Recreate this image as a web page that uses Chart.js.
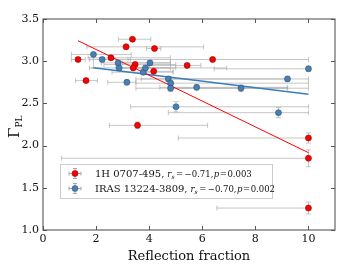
<!DOCTYPE html>
<html><head><meta charset="utf-8">
<script src="https://cdn.jsdelivr.net/npm/chart.js@4"></script>
<style>html,body{margin:0;padding:0;background:#fff}#wrap{width:345px;height:264px}</style>
</head><body><div id="wrap"><canvas id="c" width="345" height="264"></canvas></div>
<script>
const redName = "1H 0707-495";
const redRs = "\u22120.71";
const redP = "0.003";
const blueName = "IRAS 13224-3809";
const blueRs = "\u22120.70";
const blueP = "0.002";

const redX   = [1.32,1.62,2.56,3.13,3.37,4.20,3.47,3.40,4.17,5.43,6.39,3.56,10,10,10];
const redY   = [3.02,2.77,3.04,3.17,3.26,3.15,2.96,2.92,2.88,2.95,3.02,2.24,2.09,1.85,1.26];
const redXlo = [1.07,1.23,1.70,1.65,2.84,3.90,2.30,2.75,3.70,4.00,3.20,2.50,5.10,0.70,6.55];
const redXhi = [1.59,2.05,4.80,6.05,4.06,4.44,5.00,6.92,4.90,5.95,10,6.20,10,10,10];
const redYerr= [0.02,0.02,0.03,0.03,0.02,0.02,0.03,0.02,0.03,0.02,0.02,0.04,0.06,0.10,0.07];

const blueX   = [1.90,2.23,2.83,2.87,3.16,3.78,3.86,4.03,4.72,4.81,4.81,5.01,5.79,7.46,8.87,9.21,10];
const blueY   = [3.08,3.02,2.98,2.92,2.75,2.87,2.92,2.98,2.79,2.74,2.68,2.46,2.69,2.68,2.39,2.79,2.91];
const blueXlo = [1.07,1.75,2.20,1.75,2.44,2.60,2.90,3.00,3.50,3.50,3.50,3.30,4.40,4.70,4.72,3.70,6.45];
const blueXhi = [3.32,3.30,4.80,5.00,3.50,4.90,4.80,4.80,9.20,10,10,10,9.20,9.22,10,10,10];
const blueYup = [0.02,0.02,0.03,0.03,0.03,0.03,0.03,0.03,0.03,0.03,0.04,0.06,0.03,0.04,0.06,0.03,0.03];
const blueYdn = [0.16,0.02,0.03,0.03,0.03,0.03,0.03,0.03,0.03,0.03,0.04,0.06,0.03,0.04,0.06,0.03,0.03];

const redFitX = [1.32, 10];
const redFitY = [3.243, 1.916];
const blueFitX = [1.90, 10];
const blueFitY = [2.923, 2.607];

const xTicks = [0,2,4,6,8,10];
const yTicks = [1.0,1.5,2.0,2.5,3.0,3.5];

const RED = '#ff0000', BLUE = '#4a7fb3';
const SERIF = '"DejaVu Serif", "Liberation Serif", serif';

function pts(xs, ys){ return xs.map((x,i)=>({x:x, y:ys[i]})); }

const errInfo = {
  red: {xlo: redXlo, xhi: redXhi, yup: redYerr, ydn: redYerr},
  blue:{xlo: blueXlo, xhi: blueXhi, yup: blueYup, ydn: blueYdn}
};

const errPlugin = {
  id:'err',
  beforeDatasetsDraw(chart){
    const ctx = chart.ctx, xs = chart.scales.x, ys = chart.scales.y;
    ctx.save();
    ctx.strokeStyle = 'rgba(160,160,160,0.6)';
    ctx.lineWidth = 1;
    chart.data.datasets.forEach(ds=>{
      if(!ds.errKey) return;
      const e = errInfo[ds.errKey];
      ds.data.forEach((p,i)=>{
        const px = xs.getPixelForValue(p.x), py = ys.getPixelForValue(p.y);
        const x1 = xs.getPixelForValue(e.xlo[i]), x2 = xs.getPixelForValue(e.xhi[i]);
        const y1 = ys.getPixelForValue(p.y + e.yup[i]), y2 = ys.getPixelForValue(p.y - e.ydn[i]);
        ctx.beginPath();
        ctx.moveTo(x1, py); ctx.lineTo(x2, py);
        ctx.moveTo(x1, py-2.5); ctx.lineTo(x1, py+2.5);
        ctx.moveTo(x2, py-2.5); ctx.lineTo(x2, py+2.5);
        ctx.moveTo(px, y1); ctx.lineTo(px, y2);
        ctx.moveTo(px-2.5, y1); ctx.lineTo(px+2.5, y1);
        ctx.moveTo(px-2.5, y2); ctx.lineTo(px+2.5, y2);
        ctx.stroke();
      });
    });
    ctx.restore();
  }
};

function drawMath(ctx, x, y, name, rs, p){
  ctx.font = '10px ' + SERIF;
  ctx.fillText(name + ',', x, y);
  let cx = x + ctx.measureText(name + ',').width + 3;
  ctx.font = 'italic 8.5px ' + SERIF;
  ctx.fillText('r', cx, y); cx += ctx.measureText('r').width;
  ctx.font = 'italic 6px ' + SERIF;
  ctx.fillText('s', cx, y+2); cx += ctx.measureText('s').width + 1.5;
  ctx.font = '8.5px ' + SERIF;
  ctx.fillText('=', cx, y); cx += ctx.measureText('=').width + 1.5;
  ctx.fillText(rs + ',', cx, y); cx += ctx.measureText(rs + ',').width + 0.5;
  ctx.font = 'italic 8.5px ' + SERIF;
  ctx.fillText('p', cx, y); cx += ctx.measureText('p').width + 0.5;
  ctx.font = '8.5px ' + SERIF;
  ctx.fillText('=', cx, y); cx += ctx.measureText('=').width + 0.5;
  ctx.fillText(p, cx, y);
}

const decoPlugin = {
  id:'deco',
  afterDraw(chart){
    const ctx = chart.ctx, a = chart.chartArea, xs = chart.scales.x, ys = chart.scales.y;
    ctx.save();
    ctx.strokeStyle = '#666'; ctx.lineWidth = 1.2;
    ctx.strokeRect(a.left, a.top, a.right-a.left, a.bottom-a.top);
    ctx.strokeStyle = '#555'; ctx.lineWidth = 1;
    ctx.beginPath();
    xTicks.forEach(t=>{ const px = Math.round(xs.getPixelForValue(t))+0.5;
      ctx.moveTo(px, a.bottom); ctx.lineTo(px, a.bottom-4);
      ctx.moveTo(px, a.top); ctx.lineTo(px, a.top+4); });
    yTicks.forEach(t=>{ const py = Math.round(ys.getPixelForValue(t))+0.5;
      ctx.moveTo(a.left, py); ctx.lineTo(a.left+4, py);
      ctx.moveTo(a.right, py); ctx.lineTo(a.right-4, py); });
    ctx.stroke();
    ctx.fillStyle = '#111';
    ctx.translate(15, 126); ctx.rotate(-Math.PI/2);
    ctx.textAlign = 'left'; ctx.textBaseline = 'alphabetic';
    ctx.font = '15px ' + SERIF;
    const gw = ctx.measureText('\u0393').width;
    ctx.fillText('\u0393', -12, 4);
    ctx.font = '9px ' + SERIF;
    ctx.fillText('PL', -12 + gw, 7);
    ctx.restore();

    ctx.save();
    const lx = 60.5, ly = 164.5, lw = 212, lh = 34;
    ctx.fillStyle = 'rgba(255,255,255,0.9)';
    ctx.fillRect(lx, ly, lw, lh);
    ctx.strokeStyle = '#ccc'; ctx.lineWidth = 1;
    ctx.strokeRect(lx, ly, lw, lh);
    const rows = [[RED, '#a00000', redName, redRs, redP, 173.5],[BLUE, '#2b5a85', blueName, blueRs, blueP, 188.5]];
    rows.forEach(r=>{
      const mx = 75, my = r[5];
      ctx.strokeStyle = 'rgba(150,150,150,0.8)'; ctx.lineWidth = 1;
      ctx.beginPath();
      ctx.moveTo(mx-6, my); ctx.lineTo(mx+6, my);
      ctx.moveTo(mx-6, my-2); ctx.lineTo(mx-6, my+2);
      ctx.moveTo(mx+6, my-2); ctx.lineTo(mx+6, my+2);
      ctx.moveTo(mx, my-5); ctx.lineTo(mx, my+5);
      ctx.moveTo(mx-2, my-5); ctx.lineTo(mx+2, my-5);
      ctx.moveTo(mx-2, my+5); ctx.lineTo(mx+2, my+5);
      ctx.stroke();
      ctx.beginPath(); ctx.arc(mx, my, 3, 0, Math.PI*2);
      ctx.fillStyle = r[0]; ctx.fill();
      ctx.strokeStyle = r[1]; ctx.lineWidth = 0.6; ctx.stroke();
      ctx.fillStyle = '#111'; ctx.textBaseline = 'alphabetic';
      drawMath(ctx, 95, my + 3.5, r[2], r[3], r[4]);
    });
    ctx.restore();
  }
};

new Chart(document.getElementById('c'), {
  data: {
    datasets: [
      {type:'line', data: pts(redFitX, redFitY), borderColor: RED, borderWidth: 1, pointRadius: 0, fill:false, order: 3},
      {type:'line', data: pts(blueFitX, blueFitY), borderColor: '#3b7cc0', borderWidth: 1.5, pointRadius: 0, fill:false, order: 3},
      {type:'scatter', errKey:'red', label: redName, data: pts(redX, redY), backgroundColor: RED, borderColor: '#8a0000', borderWidth: 0.6, pointRadius: 3, order: 1},
      {type:'scatter', errKey:'blue', label: blueName, data: pts(blueX, blueY), backgroundColor: BLUE, borderColor: '#27527a', borderWidth: 0.6, pointRadius: 3, order: 2}
    ]
  },
  options: {
    responsive: false, animation: false, devicePixelRatio: 1,
    layout: {padding: {top: 19, right: 10, left: 0, bottom: 0}},
    plugins: {legend: {display:false}, tooltip: {enabled:false}},
    scales: {
      x: {type:'linear', min:0, max:11,
        afterBuildTicks: s => { s.ticks = xTicks.map(v=>({value:v})); },
        afterFit: s => { s.height = 34; },
        grid: {display:false, drawTicks:false},
        border: {display:false},
        ticks: {color:'#111', font:{family: SERIF, size: 11}, padding: 3, maxRotation:0,
          callback: v => String(v)},
        title: {display:true, text:'Reflection fraction', color:'#111', font:{family: SERIF, size: 13}, padding:{top:0,bottom:0}}
      },
      y: {type:'linear', min:1.0, max:3.5,
        afterBuildTicks: s => { s.ticks = yTicks.map(v=>({value:v})); },
        afterFit: s => { s.width = 43; },
        grid: {display:false, drawTicks:false},
        border: {display:false},
        ticks: {color:'#111', font:{family: SERIF, size: 11}, padding: 4,
          callback: v => Number(v).toFixed(1)}
      }
    }
  },
  plugins: [errPlugin, decoPlugin]
});
</script></body></html>
